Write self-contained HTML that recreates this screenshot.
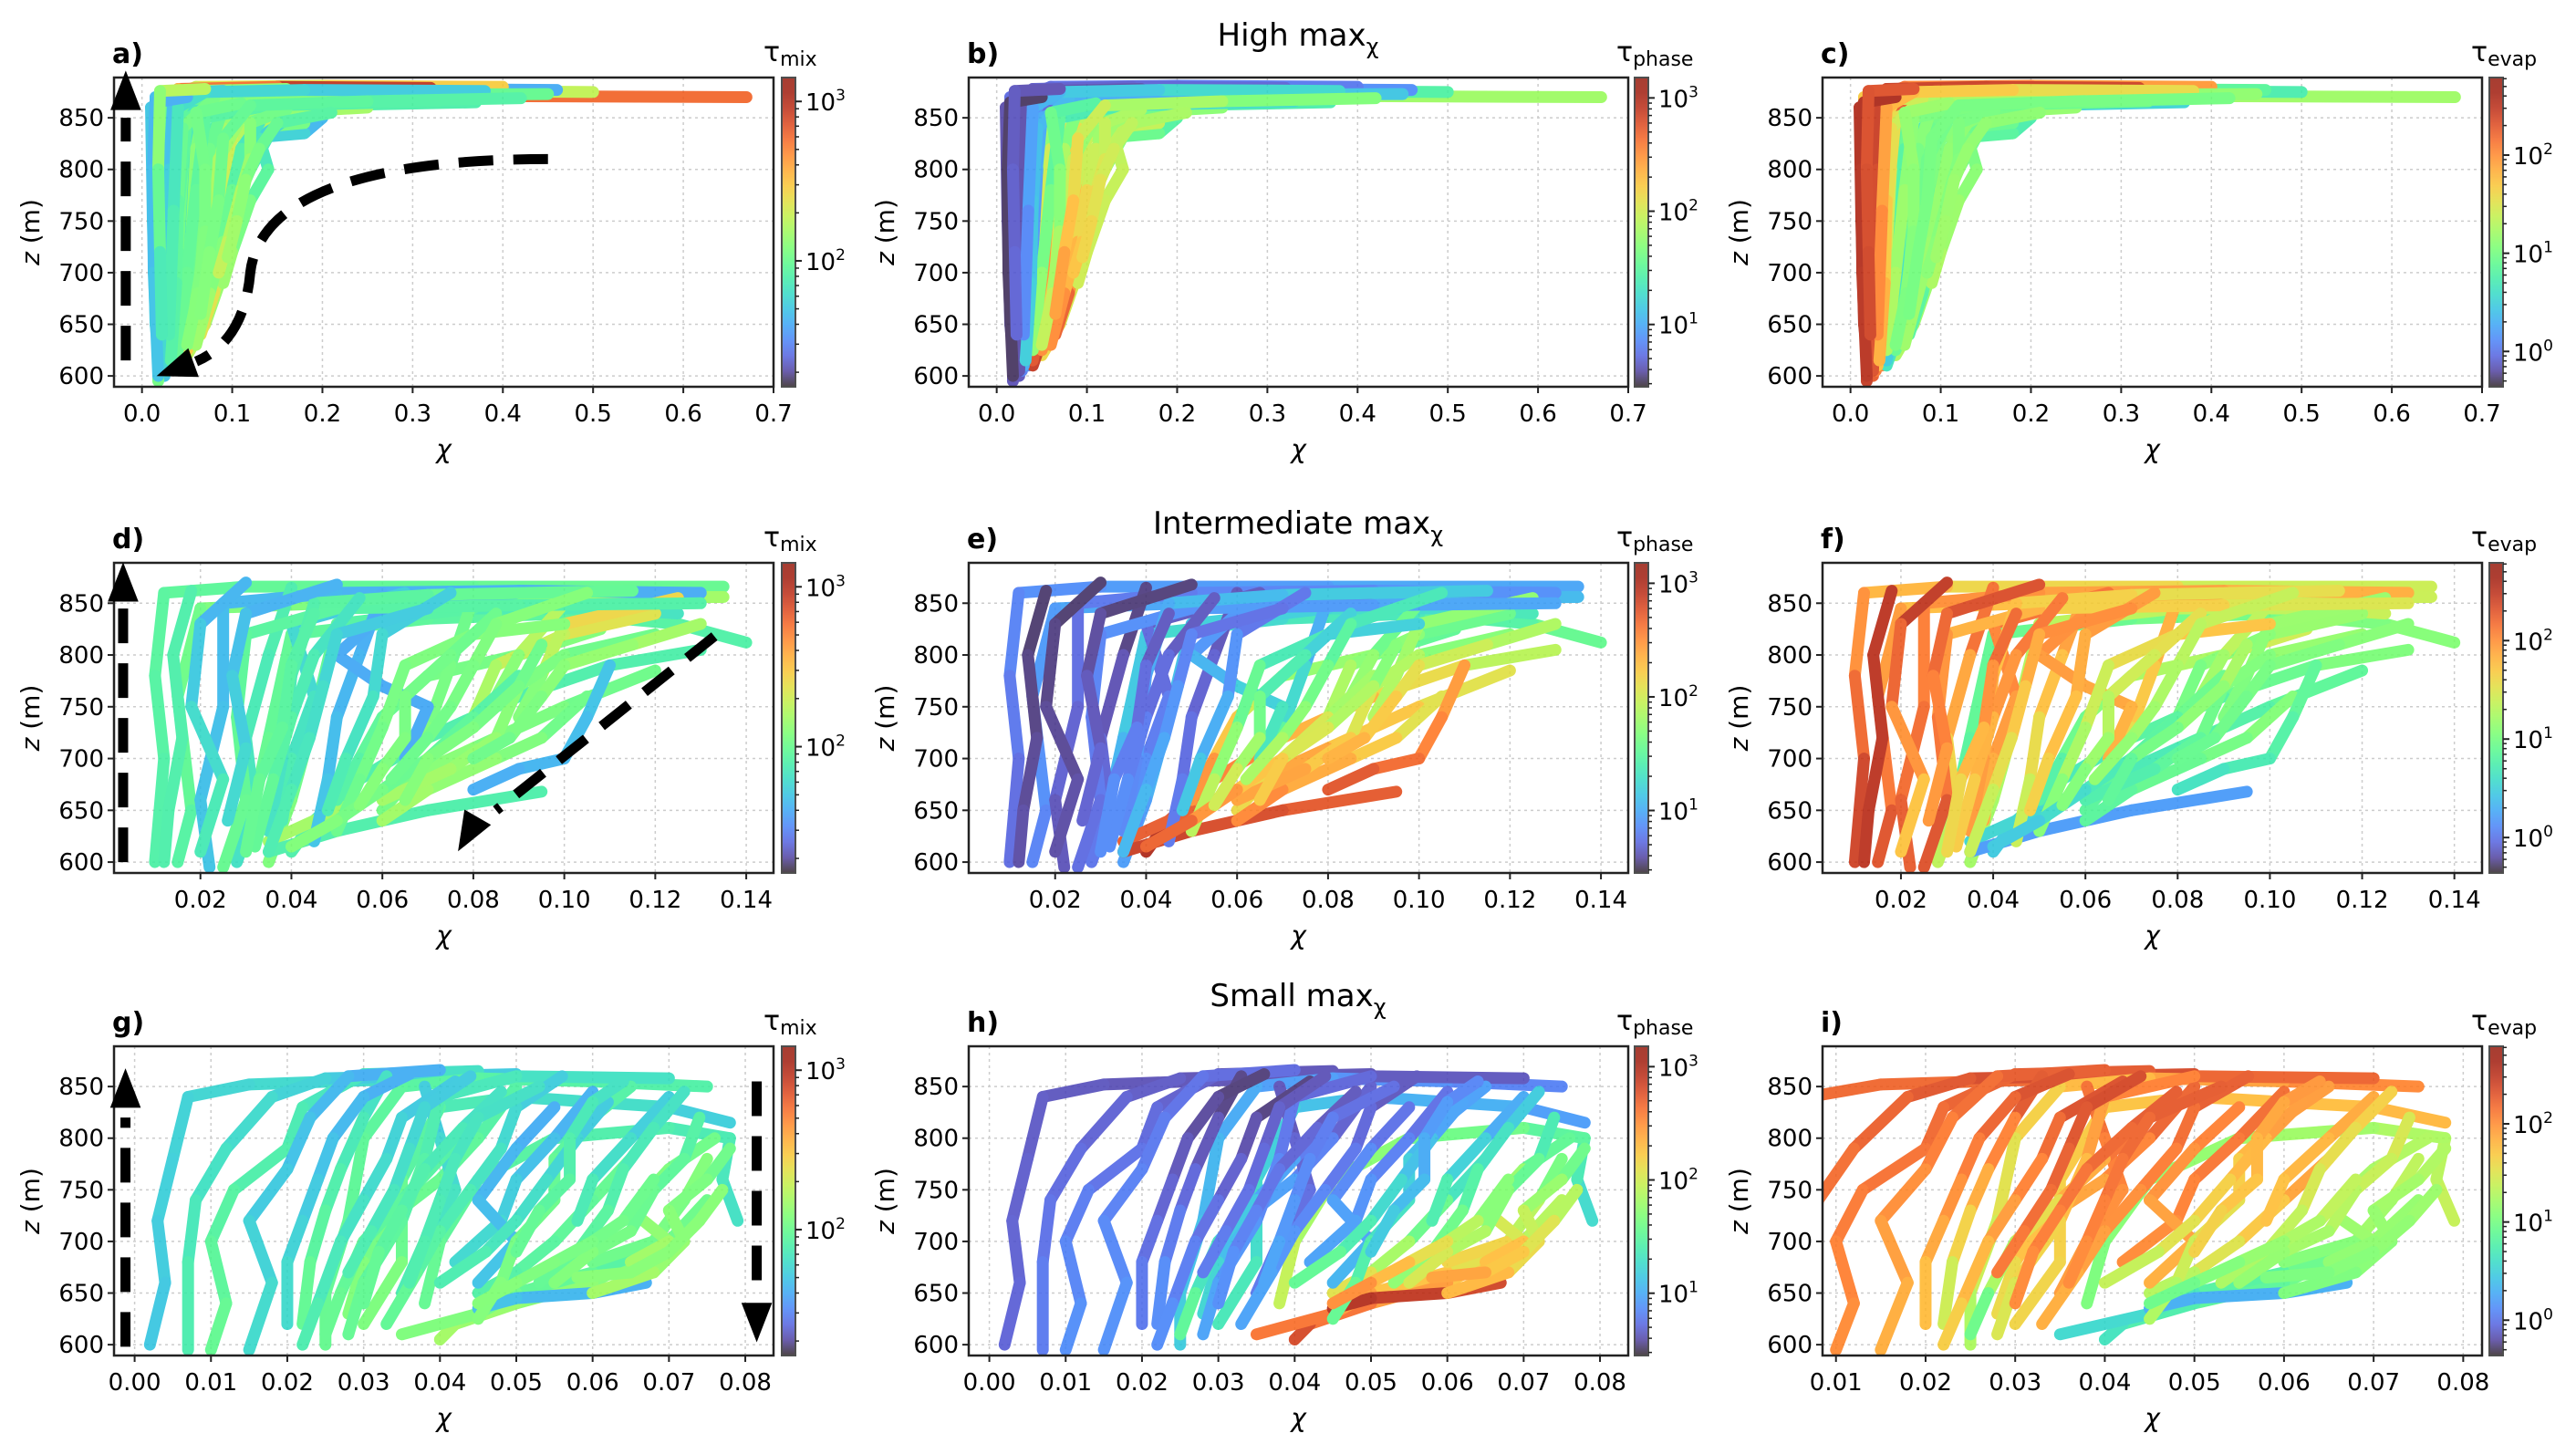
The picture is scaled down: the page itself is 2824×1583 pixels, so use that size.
<!DOCTYPE html>
<html><head><meta charset="utf-8"><style>
html,body{margin:0;padding:0;background:#fff;}
svg{display:block;font-family:"DejaVu Sans","Liberation Sans",sans-serif;}
</style></head><body>
<svg id="fig" width="2824" height="1583" viewBox="0 0 2824 1583" xmlns="http://www.w3.org/2000/svg">
<defs id="defs"></defs>
<rect x="0" y="0" width="2824" height="1583" fill="#fff"/>
<text x="1423" y="50" text-anchor="middle" font-size="34">High max<tspan font-size="24" dy="9">χ</tspan></text>
<text x="1423" y="585" text-anchor="middle" font-size="34">Intermediate max<tspan font-size="24" dy="9">χ</tspan></text>
<text x="1423" y="1103" text-anchor="middle" font-size="34">Small max<tspan font-size="24" dy="9">χ</tspan></text>
<g id="plots"></g>
</svg>
<script>
// ---- data: trajectories (chi, z) per row ----
const highPaths = [
[0.67,870,0.4,871,0.15,869,0.06,862,0.04,800,0.035,700,0.03,620],
[0.5,875,0.3,876,0.1,874,0.05,860,0.05,750,0.04,650,0.035,610],
[0.46,877,0.25,878,0.05,876,0.015,870,0.015,760,0.02,640,0.025,600],
[0.4,880,0.2,881,0.06,880,0.03,870,0.025,780,0.02,680,0.018,595],
[0.32,879,0.15,880,0.04,878,0.02,860,0.02,740,0.025,620],
[0.37,865,0.2,862,0.1,858,0.08,840,0.07,780,0.06,700,0.045,630],
[0.2,850,0.18,835,0.14,832,0.12,800,0.1,760,0.09,700,0.07,650,0.05,620],
[0.18,845,0.12,840,0.1,800,0.11,770,0.11,747,0.1,740,0.085,700,0.07,660],
[0.25,860,0.15,855,0.09,850,0.08,790,0.07,720,0.06,660,0.04,610],
[0.3,868,0.12,866,0.06,855,0.05,790,0.045,700,0.04,640],
[0.35,872,0.2,873,0.08,870,0.03,850,0.03,720,0.028,605],
[0.15,870,0.07,865,0.06,820,0.055,740,0.05,680,0.045,640],
[0.22,876,0.1,874,0.04,870,0.045,800,0.04,720,0.03,650,0.03,615],
[0.12,860,0.09,840,0.095,780,0.09,720,0.08,680,0.065,640],
[0.17,855,0.13,830,0.14,800,0.12,770,0.1,720,0.09,690],
[0.1,872,0.03,870,0.01,860,0.012,750,0.015,650,0.02,610],
[0.28,874,0.12,873,0.07,860,0.065,800,0.06,740,0.05,660,0.04,615],
[0.08,866,0.04,850,0.035,780,0.03,700,0.025,620],
[0.14,850,0.1,830,0.08,760,0.075,700,0.06,650,0.05,625],
[0.2,868,0.09,860,0.075,820,0.07,760,0.065,700,0.055,650],
[0.45,873,0.2,872,0.05,868,0.02,820,0.018,700,0.02,610],
[0.16,878,0.06,876,0.025,860,0.022,760,0.022,660,0.02,605],
[0.26,870,0.1,868,0.05,850,0.04,760,0.035,680,0.03,610],
[0.19,862,0.11,850,0.085,810,0.08,750,0.07,690,0.055,640],
[0.13,845,0.11,820,0.1,780,0.09,730,0.075,680,0.06,630],
[0.33,866,0.14,862,0.07,850,0.06,780,0.05,700,0.04,625],
[0.09,876,0.035,874,0.03,800,0.028,700,0.025,605],
[0.24,872,0.08,869,0.045,840,0.04,770,0.038,690,0.032,615],
[0.11,864,0.06,855,0.07,800,0.07,740,0.062,680,0.05,630],
[0.38,876,0.18,877,0.07,875,0.04,860,0.035,760,0.03,640],
[0.05,870,0.015,865,0.012,800,0.013,700,0.018,600],
[0.16,858,0.12,845,0.12,810,0.11,780,0.095,730,0.085,700],
[0.42,869,0.25,866,0.12,862,0.09,830,0.085,770,0.075,720,0.065,660],
[0.07,878,0.02,876,0.018,800,0.02,720,0.022,640],
[0.21,855,0.15,845,0.13,820,0.115,790,0.105,750,0.095,715]
];
const highMix = [[2.85,2.0],[2.3,1.9],[1.6,1.7],[2.5,2.0],[3.05,2.1],[1.9,1.9],[1.6,2.3],[2.0,2.6],[2.2,2.0],[1.9,1.8],[2.1,1.8],[2.0,2.2],[2.2,1.9],[2.1,2.4],[1.7,2.2],[1.6,1.8],[2.0,2.0],[1.85,1.7],[2.2,2.5],[1.95,2.1],
[2.0,1.9],[2.2,1.8],[1.9,2.0],[2.1,2.3],[1.8,2.2],[1.9,2.0],[1.6,1.8],[2.1,1.9],[2.0,2.1],[1.7,1.9],[1.6,1.7],[2.0,2.3],[1.9,2.1],[2.3,1.8],[1.9,2.2]];
const highPhase = [[1.9,0.7],[1.5,0.8],[0.9,0.6],[0.8,0.6],[0.7,0.6],[1.3,2.6],[1.4,2.2],[1.9,2.5],[1.6,3.0],[1.2,2.4],[1.0,0.8],[1.3,2.7],[0.8,1.0],[1.8,2.8],[1.9,2.0],[0.6,0.6],[1.2,2.9],[0.7,0.8],[1.7,2.6],[1.4,2.3],
[1.2,0.6],[0.6,0.6],[1.0,1.0],[1.5,2.4],[1.7,2.6],[1.2,1.8],[0.6,0.6],[1.0,1.2],[1.4,2.0],[1.3,0.8],[0.5,0.5],[1.8,2.3],[1.6,2.5],[0.6,0.7],[1.8,2.2]];
const highEvap = [[1.1,2.3],[0.6,2.2],[0.7,2.4],[1.9,2.5],[2.4,2.5],[0.5,0.8],[0.7,1.3],[0.9,1.2],[1.2,0.6],[1.0,0.7],[1.3,2.2],[1.1,0.5],[2.0,1.0],[1.0,0.8],[0.9,1.3],[2.5,2.6],[1.3,0.4],[2.3,2.0],[1.1,0.9],[1.2,0.8],
[1.0,2.3],[2.4,2.4],[1.3,1.8],[1.0,0.9],[1.1,1.2],[0.9,1.3],[2.5,2.3],[1.2,1.9],[1.2,1.0],[1.5,2.1],[2.6,2.5],[1.0,1.1],[1.0,1.0],[2.3,2.4],[1.1,1.2]];

const midPaths = [
[0.135,866,0.08,866,0.03,866,0.012,860,0.01,780,0.012,700,0.01,600],
[0.135,856,0.1,855,0.06,852,0.02,845,0.015,760,0.018,650,0.015,600],
[0.13,860,0.09,862,0.05,860,0.025,850,0.025,750,0.02,660,0.022,595],
[0.14,812,0.125,830,0.1,840,0.07,835,0.04,820,0.035,720,0.03,620],
[0.125,840,0.11,845,0.08,845,0.05,830,0.045,740,0.04,660,0.035,600],
[0.13,805,0.11,790,0.09,760,0.07,720,0.055,680,0.045,640,0.04,610],
[0.12,785,0.1,750,0.08,710,0.065,680,0.05,650,0.035,620],
[0.108,825,0.09,800,0.07,780,0.06,740,0.055,700,0.05,660],
[0.12,840,0.1,820,0.085,790,0.08,740,0.07,700,0.06,650],
[0.095,668,0.07,650,0.05,630,0.035,610],
[0.105,760,0.095,720,0.085,700,0.07,670,0.06,640],
[0.11,790,0.105,740,0.1,700,0.09,690,0.08,670],
[0.06,860,0.055,800,0.05,740,0.048,680,0.045,620],
[0.08,855,0.075,790,0.07,730,0.065,690],
[0.1,850,0.09,800,0.085,760,0.075,720],
[0.04,865,0.035,800,0.03,720,0.032,650,0.028,600],
[0.09,860,0.06,840,0.05,800,0.06,770,0.07,750,0.065,700],
[0.03,870,0.02,830,0.018,750,0.025,680,0.02,610],
[0.125,855,0.1,830,0.095,780,0.09,740],
[0.065,860,0.04,830,0.045,760,0.04,700,0.038,640],
[0.13,850,0.09,848,0.05,845,0.03,820,0.028,740,0.03,660,0.025,595],
[0.115,862,0.07,858,0.045,850,0.04,780,0.038,700,0.035,630],
[0.1,830,0.08,820,0.065,790,0.06,730,0.055,680,0.05,630],
[0.075,860,0.06,820,0.058,760,0.052,700,0.048,650],
[0.12,820,0.1,800,0.09,770,0.085,720,0.075,690,0.06,660],
[0.09,780,0.08,740,0.07,700,0.06,670,0.05,640,0.04,615],
[0.055,855,0.045,800,0.04,740,0.036,680,0.032,615],
[0.085,840,0.075,800,0.065,760,0.065,720,0.06,690,0.055,655],
[0.018,862,0.014,800,0.016,720,0.013,650,0.012,600],
[0.105,860,0.085,830,0.08,790,0.075,750,0.07,720,0.062,680],
[0.13,830,0.115,810,0.1,790,0.095,760,0.088,720,0.08,700],
[0.07,845,0.05,820,0.047,770,0.044,720,0.04,670,0.035,610],
[0.05,868,0.03,840,0.027,780,0.03,710,0.026,640],
[0.095,810,0.09,770,0.08,730,0.07,700,0.065,660],
[0.045,840,0.04,790,0.038,730,0.033,680,0.03,610]
];
const midMix = [[2.0,1.9],[2.2,1.9],[1.6,1.7],[1.9,2.0],[1.8,2.1],[1.9,1.9],[2.0,2.2],[2.1,1.9],[2.4,2.0],[1.9,1.9],[2.0,2.2],[1.7,1.6],[1.6,1.7],[2.0,2.1],[2.3,1.9],[1.9,1.8],[1.6,1.6],[1.6,1.9],[2.5,2.0],[1.7,1.9],
[1.9,2.0],[2.0,1.8],[2.1,2.0],[1.7,1.9],[2.0,2.2],[1.9,2.1],[1.8,2.0],[2.0,2.1],[1.9,1.9],[2.1,2.0],[2.2,2.0],[1.7,1.9],[1.6,1.8],[2.0,2.1],[1.9,2.0]];
const midPhase = [[1.0,0.7],[1.1,0.8],[0.9,0.6],[1.6,1.0],[1.4,0.9],[1.8,3.1],[2.0,2.8],[1.4,2.6],[1.5,2.2],[2.7,2.9],[2.0,2.6],[2.4,2.8],[0.6,0.8],[0.9,1.6],[1.5,2.0],[0.5,0.8],[0.7,1.4],[0.5,0.6],[1.7,1.9],[0.6,0.9],
[1.0,0.7],[1.2,0.8],[1.1,2.0],[0.7,1.2],[1.6,2.5],[1.7,2.8],[0.6,0.9],[1.1,2.1],[0.5,0.6],[1.3,1.9],[1.8,2.4],[0.7,1.1],[0.5,0.7],[1.6,2.3],[0.6,0.9]];
const midEvap = [[1.3,2.5],[1.3,2.4],[1.8,2.3],[1.1,0.8],[1.4,1.2],[1.1,0.4],[0.9,0.5],[1.5,0.7],[1.2,0.8],[0.2,0.2],[1.1,0.8],[0.9,0.6],[2.0,1.3],[1.9,1.5],[1.4,1.0],[2.3,1.2],[2.1,1.8],[2.6,1.6],[1.2,1.0],[2.2,1.8],
[1.4,2.4],[1.5,2.0],[1.8,1.0],[2.0,1.6],[1.2,0.7],[1.0,0.4],[2.2,1.6],[1.6,1.0],[2.5,2.5],[1.4,1.1],[1.1,0.9],[2.1,1.3],[2.4,1.9],[1.3,0.8],[2.3,1.5]];

const smallPaths = [
[0.06,858,0.03,856,0.015,852,0.007,840,0.005,780,0.003,720,0.004,660,0.002,600],
[0.05,862,0.025,858,0.018,840,0.012,790,0.008,740,0.007,680,0.007,595],
[0.045,865,0.03,862,0.022,830,0.02,790,0.013,750,0.01,700,0.012,640,0.01,595],
[0.04,866,0.028,860,0.023,820,0.02,770,0.015,720,0.018,660,0.015,595],
[0.075,850,0.06,855,0.045,858,0.035,850,0.03,800,0.028,720,0.025,650,0.025,600],
[0.078,815,0.07,830,0.05,840,0.04,830,0.035,760,0.035,680,0.03,620],
[0.079,720,0.077,760,0.078,800,0.07,810,0.055,800,0.045,760,0.04,700,0.038,640],
[0.075,740,0.07,700,0.065,680,0.06,660,0.05,640,0.042,620,0.04,605],
[0.07,700,0.06,670,0.05,650,0.045,630,0.035,610],
[0.067,660,0.06,650,0.05,645,0.045,635],
[0.065,780,0.06,740,0.055,700,0.05,670,0.045,650],
[0.075,780,0.072,740,0.068,700,0.06,680],
[0.06,845,0.055,800,0.05,760,0.048,720,0.042,680],
[0.07,840,0.065,800,0.06,760,0.058,720],
[0.05,850,0.045,800,0.04,760,0.033,720,0.03,680,0.028,630],
[0.033,860,0.03,820,0.027,770,0.025,730,0.023,680,0.022,620],
[0.055,830,0.05,790,0.045,740,0.05,700,0.045,660],
[0.076,800,0.07,770,0.065,730,0.07,700,0.065,680],
[0.038,850,0.04,800,0.042,750,0.038,700,0.035,650],
[0.045,820,0.04,780,0.035,740,0.03,700,0.027,650,0.025,610],
[0.07,858,0.05,860,0.04,840,0.038,780,0.035,720,0.03,660,0.028,610],
[0.065,850,0.06,820,0.055,780,0.055,740,0.05,700,0.048,660,0.045,625],
[0.078,790,0.075,760,0.07,730,0.072,700,0.068,670,0.06,650],
[0.042,855,0.035,820,0.033,780,0.03,740,0.027,700,0.024,640,0.022,600],
[0.072,845,0.068,810,0.064,770,0.062,730,0.058,690,0.053,660],
[0.056,860,0.05,830,0.048,790,0.044,750,0.04,710,0.037,670,0.033,620],
[0.074,820,0.072,780,0.068,750,0.065,710,0.06,690,0.055,660],
[0.048,845,0.043,810,0.038,770,0.035,730,0.032,690,0.03,640],
[0.062,835,0.058,800,0.054,760,0.05,720,0.046,690,0.04,660],
[0.036,862,0.03,840,0.026,800,0.024,760,0.022,720,0.02,680,0.02,620],
[0.068,760,0.064,720,0.06,700,0.055,680,0.05,660,0.045,640],
[0.053,850,0.045,820,0.042,780,0.04,740,0.038,700,0.036,660],
[0.077,750,0.074,720,0.07,690,0.065,670,0.058,665],
[0.044,860,0.038,830,0.036,790,0.034,750,0.031,710,0.028,670],
[0.064,855,0.06,835,0.057,800,0.057,760,0.053,730,0.05,690]
];
const smallMix = [[1.8,1.7],[1.7,1.9],[1.8,2.0],[1.6,1.8],[1.9,2.0],[1.7,2.1],[1.8,2.0],[2.0,2.2],[1.9,2.1],[1.6,1.7],[2.0,1.9],[2.1,2.0],[1.6,1.8],[1.7,1.9],[1.9,2.1],[1.8,2.0],[1.6,1.7],[2.0,2.2],[1.7,1.9],[1.9,2.0],
[1.8,2.0],[1.9,2.1],[2.0,2.2],[1.7,1.9],[1.8,2.0],[1.7,2.0],[1.9,2.1],[1.8,2.0],[1.7,1.9],[1.6,1.8],[2.0,2.1],[1.8,1.9],[2.1,2.1],[1.7,1.9],[1.8,2.0]];
const smallPhase = [[0.6,0.7],[0.6,0.8],[0.6,0.9],[0.7,0.9],[0.8,1.2],[0.9,1.4],[1.2,2.0],[1.8,2.9],[2.0,2.7],[2.8,3.0],[1.2,2.2],[1.5,2.3],[0.7,1.0],[0.9,1.5],[0.6,1.3],[0.5,0.9],[0.7,1.1],[1.4,2.4],[0.6,0.8],[0.7,1.6],
[0.6,1.0],[0.9,1.6],[1.5,2.4],[0.5,0.9],[1.1,1.8],[0.6,1.0],[1.3,2.1],[0.6,0.9],[0.9,1.6],[0.5,0.8],[1.6,2.6],[0.7,1.0],[1.8,2.5],[0.6,0.8],[0.8,1.2]];
const smallEvap = [[2.2,2.2],[2.4,2.0],[2.3,2.0],[2.3,1.8],[2.1,1.2],[1.8,1.6],[1.4,1.0],[1.2,0.6],[1.0,0.5],[0.3,0.3],[2.0,1.2],[1.4,1.0],[2.2,2.0],[1.9,1.7],[2.3,1.5],[2.4,1.3],[2.1,1.8],[1.3,1.1],[2.2,1.9],[2.3,0.8],
[2.3,1.4],[2.0,1.2],[1.3,1.0],[2.4,1.6],[1.7,1.2],[2.3,1.8],[1.5,1.1],[2.3,2.0],[2.0,1.3],[2.4,1.7],[1.4,0.9],[2.3,2.0],[1.2,1.0],[2.4,2.1],[2.0,1.6]];

const highXTicks = [0,0.1,0.2,0.3,0.4,0.5,0.6,0.7];
const highXLabels = ["0.0","0.1","0.2","0.3","0.4","0.5","0.6","0.7"];
const midXTicks = [0.02,0.04,0.06,0.08,0.10,0.12,0.14];
const midXLabels = ["0.02","0.04","0.06","0.08","0.10","0.12","0.14"];
const smallXTicks = [0,0.01,0.02,0.03,0.04,0.05,0.06,0.07,0.08];
const smallXLabels = ["0.00","0.01","0.02","0.03","0.04","0.05","0.06","0.07","0.08"];
const smallXTicksI = [0.01,0.02,0.03,0.04,0.05,0.06,0.07,0.08];
const smallXLabelsI = ["0.01","0.02","0.03","0.04","0.05","0.06","0.07","0.08"];
const zTicks = [600,650,700,750,800,850];

// ---- layout ----
const NS = "http://www.w3.org/2000/svg";
const defs = document.getElementById('defs');
const plots = document.getElementById('plots');
const cols = [{x0:125,x1:848,cb:857},{x0:1062,x1:1785,cb:1792},{x0:1998,x1:2721,cb:2729}];
const rows = [{y0:85,y1:424},{y0:617,y1:957},{y0:1147,y1:1486}];
const zlim = [589.5,889];
const cbRanges = {mix:[1.21,3.15], phase:[0.45,3.18], evap:[-0.36,2.79]};
const cbNames = {mix:'mix', phase:'phase', evap:'evap'};

function turbo(t){
  t=Math.max(0,Math.min(1,t));
  const r=0.13572138+t*(4.61539260+t*(-42.66032258+t*(132.13108234+t*(-152.94239396+t*59.28637943))));
  const g=0.09140261+t*(2.19418839+t*(4.84296658+t*(-14.18503333+t*(4.27729857+t*2.82956604))));
  const b=0.10667330+t*(12.64194608+t*(-60.58204836+t*(110.36276771+t*(-89.90310912+t*27.34824973))));
  const c=v=>Math.round(255*Math.max(0,Math.min(1,v)));
  return 'rgb('+c(r)+','+c(g)+','+c(b)+')';
}
function mk(tag, attrs, parent){
  const e=document.createElementNS(NS,tag);
  for(const k in attrs) e.setAttribute(k, attrs[k]);
  (parent||plots).appendChild(e);
  return e;
}
const grad = mk('linearGradient',{id:'turbo',x1:'0',y1:'1',x2:'0',y2:'0'},defs);
for(let i=0;i<=20;i++){ mk('stop',{offset:(i/20),'stop-color':turbo(i/20)},grad); }

const panels = [
 {lab:'a)',r:0,c:0,paths:highPaths,cols:highMix,cb:'mix',xlim:[-0.031,0.7],xt:highXTicks,xl:highXLabels},
 {lab:'b)',r:0,c:1,paths:highPaths,cols:highPhase,cb:'phase',xlim:[-0.031,0.7],xt:highXTicks,xl:highXLabels},
 {lab:'c)',r:0,c:2,paths:highPaths,cols:highEvap,cb:'evap',xlim:[-0.031,0.7],xt:highXTicks,xl:highXLabels},
 {lab:'d)',r:1,c:0,paths:midPaths,cols:midMix,cb:'mix',xlim:[0.001,0.146],xt:midXTicks,xl:midXLabels},
 {lab:'e)',r:1,c:1,paths:midPaths,cols:midPhase,cb:'phase',xlim:[0.001,0.146],xt:midXTicks,xl:midXLabels},
 {lab:'f)',r:1,c:2,paths:midPaths,cols:midEvap,cb:'evap',xlim:[0.003,0.146],xt:midXTicks,xl:midXLabels},
 {lab:'g)',r:2,c:0,paths:smallPaths,cols:smallMix,cb:'mix',xlim:[-0.0027,0.0837],xt:smallXTicks,xl:smallXLabels},
 {lab:'h)',r:2,c:1,paths:smallPaths,cols:smallPhase,cb:'phase',xlim:[-0.0027,0.0837],xt:smallXTicks,xl:smallXLabels},
 {lab:'i)',r:2,c:2,paths:smallPaths,cols:smallEvap,cb:'evap',xlim:[0.0085,0.0821],xt:smallXTicksI,xl:smallXLabelsI}
];

panels.forEach((p,pi)=>{
  const C=cols[p.c], R=rows[p.r];
  const X=v=>C.x0+(v-p.xlim[0])/(p.xlim[1]-p.xlim[0])*(C.x1-C.x0);
  const Y=v=>R.y1-(v-zlim[0])/(zlim[1]-zlim[0])*(R.y1-R.y0);
  const g=mk('g',{});
  
  
  const cp=mk('clipPath',{id:'clip'+pi},defs);
  mk('rect',{x:C.x0,y:R.y0,width:C.x1-C.x0,height:R.y1-R.y0},cp);
  p.xt.forEach(v=>{const l=mk('line',{x1:X(v),x2:X(v),y1:R.y0,y2:R.y1,stroke:'#ccc','stroke-width':1.5,'stroke-dasharray':'3,4'},g);
    
    });
  zTicks.forEach(v=>{const l=mk('line',{x1:C.x0,x2:C.x1,y1:Y(v),y2:Y(v),stroke:'#ccc','stroke-width':1.5,'stroke-dasharray':'3,4'},g);
    
    });
  const tg=mk('g',{'clip-path':'url(#clip'+pi+')','stroke-linecap':'round','stroke-linejoin':'round',opacity:0.85},g);
  const rng=cbRanges[p.cb];
  p.paths.forEach((pts,ti)=>{
    const n=pts.length/2, col=p.cols[ti];
    const tr=mk('g',{},tg);
    
    
    for(let k=0;k<n-1;k++){
      const f=(k+0.5)/(n-1);
      const v=col[0]+(col[1]-col[0])*f;
      mk('line',{x1:X(pts[2*k]),y1:Y(pts[2*k+1]),x2:X(pts[2*k+2]),y2:Y(pts[2*k+3]),
        stroke:turbo((v-rng[0])/(rng[1]-rng[0])),'stroke-width':13},tr);
    }
  });
  const fr=mk('rect',{x:C.x0,y:R.y0,width:C.x1-C.x0,height:R.y1-R.y0,fill:'none',stroke:'#222','stroke-width':2.5},g);
  
  
  p.xt.forEach((v,i)=>{
    mk('line',{x1:X(v),x2:X(v),y1:R.y1,y2:R.y1+7,stroke:'#222','stroke-width':2},g);
    const t=mk('text',{x:X(v),y:R.y1+38,'text-anchor':'middle','font-size':26},g);
    t.textContent=p.xl[i];
    
    
  });
  zTicks.forEach(v=>{
    mk('line',{x1:C.x0-7,x2:C.x0,y1:Y(v),y2:Y(v),stroke:'#222','stroke-width':2},g);
    const t=mk('text',{x:C.x0-11,y:Y(v)+9,'text-anchor':'end','font-size':26},g);
    t.textContent=v;
    
    
  });
  const xl=mk('text',{x:(C.x0+C.x1)/2,y:R.y1+78,'text-anchor':'middle','font-size':28,'font-style':'italic'},g);
  xl.textContent='χ';
  
  
  const yl=mk('text',{x:0,y:0,'text-anchor':'middle','font-size':28,transform:'translate('+(C.x0-82)+','+((R.y0+R.y1)/2)+') rotate(-90)'},g);
  yl.innerHTML='<tspan font-style="italic">z</tspan> (m)';
  
  
  const pl=mk('text',{x:C.x0-2,y:R.y0-16,'font-size':30,'font-weight':'bold'},g);
  pl.textContent=p.lab;
  
  
  const cb=mk('rect',{x:C.cb,y:R.y0,width:15,height:R.y1-R.y0,fill:'url(#turbo)',opacity:0.8,stroke:'#222','stroke-width':2},g);
  
  
  const CY=v=>R.y1-(v-rng[0])/(rng[1]-rng[0])*(R.y1-R.y0);
  for(let d=Math.floor(rng[0]);d<=Math.ceil(rng[1]);d++){
    for(let k=1;k<=9;k++){
      const lv=d+Math.log10(k);
      if(lv<rng[0]||lv>rng[1]) continue;
      const y=CY(lv);
      mk('line',{x1:C.cb+15,x2:C.cb+15+(k===1?7:4),y1:y,y2:y,stroke:'#222','stroke-width':k===1?2:1.5},g);
      if(k===1){
        const t=mk('text',{x:C.cb+26,y:y+10,'font-size':26},g);
        t.innerHTML='10<tspan font-size="17" dy="-11">'+d+'</tspan>';
        
        
      }
    }
  }
  const ct=mk('text',{x:C.cb-20,y:R.y0-18,'font-size':30},g);
  ct.innerHTML='τ<tspan font-size="22" dy="5">'+cbNames[p.cb]+'</tspan>';
  
  
  p.X=X; p.Y=Y;
});

// ---- annotation arrows ----
function dashed(d, name){
  const e=mk('path',{d:d,fill:'none',stroke:'#000','stroke-width':11,'stroke-dasharray':'38,22'});
  
  
}
function head(x,y,ang,name){
  const s=24;
  const e=mk('polygon',{points:'0,'+(-s*1.4)+' '+(-s*0.7)+','+(s*0.4)+' '+(s*0.7)+','+(s*0.4),fill:'#000',transform:'translate('+x+','+y+') rotate('+ang+')'});
  
  
}
const pa=panels[0], pd=panels[3], pg=panels[6];
dashed('M'+pa.X(-0.018)+','+pa.Y(615)+' L'+pa.X(-0.018)+','+pa.Y(850),'arrow-up-a');
head(pa.X(-0.018),pa.Y(866),0,'arrowhead-up-a');
dashed('M'+pa.X(0.45)+','+pa.Y(810)+' C'+pa.X(0.25)+','+pa.Y(810)+' '+pa.X(0.13)+','+pa.Y(775)+' '+pa.X(0.12)+','+pa.Y(700)+' C'+pa.X(0.115)+','+pa.Y(650)+' '+pa.X(0.09)+','+pa.Y(625)+' '+pa.X(0.06)+','+pa.Y(614),'arrow-curve-a');
head(pa.X(0.048),pa.Y(610),-110,'arrowhead-curve-a');
dashed('M'+pd.X(0.003)+','+pd.Y(600)+' L'+pd.X(0.003)+','+pd.Y(845),'arrow-up-d');
head(pd.X(0.003),pd.Y(860),0,'arrowhead-up-d');
dashed('M'+pd.X(0.133)+','+pd.Y(818)+' L'+pd.X(0.085)+','+pd.Y(650),'arrow-diag-d');
head(pd.X(0.08),pd.Y(636),-150,'arrowhead-diag-d');
dashed('M'+pg.X(-0.0012)+','+pg.Y(598)+' L'+pg.X(-0.0012)+','+pg.Y(820),'arrow-up-g');
head(pg.X(-0.0012),pg.Y(838),0,'arrowhead-up-g');
dashed('M'+pg.X(0.0815)+','+pg.Y(855)+' L'+pg.X(0.0815)+','+pg.Y(650),'arrow-down-g');
head(pg.X(0.0815),pg.Y(632),180,'arrowhead-down-g');
</script>
</body></html>
